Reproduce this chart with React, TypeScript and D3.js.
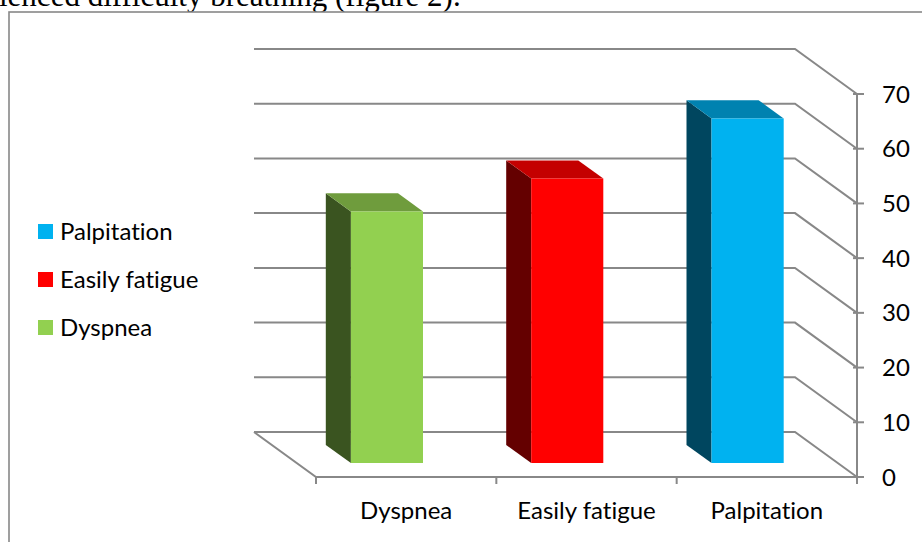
import React from "react";
import * as d3 from "d3";

// Symptom frequencies (per cent) shown as 3D columns
const categories = ["Dyspnea", "Easily fatigue", "Palpitation"];
const values = [46, 52, 63];
const valueTicks = [0, 10, 20, 30, 40, 50, 60, 70];
const legendOrder = ["Palpitation", "Easily fatigue", "Dyspnea"];

const frontColors = ["#92d050", "#ff0000", "#00b2f0"];
const topColors = ["#6f9c3d", "#c40000", "#0082b0"];
const sideColors = ["#3a5420", "#640000", "#00465f"];

const W = 922;
const H = 542;
const FONT = "Lato, 'Open Sans', sans-serif";
const FS = 24;
const GRID = "#888888";
const textStyle = { fontVariantLigatures: "none" } as React.CSSProperties;

// oblique depth vector: full depth of the plot box
const DX = -62;
const DY = -45;
const BAR_D0 = 0.31;
const BAR_D1 = 0.714;

export default function App() {
  const x = d3.scaleBand<string>().domain(categories).range([316, 857]);
  const y = d3.scaleLinear().domain([0, 70]).range([477, 94]);
  const bw = x.bandwidth();
  const colorOf = (c: string) => frontColors[categories.indexOf(c)];

  const P = (px: number, v: number, d: number): [number, number] => [
    px + DX * d,
    y(v) + DY * d,
  ];
  const poly = (pts: [number, number][]) =>
    pts.map((p) => `${p[0].toFixed(1)},${p[1].toFixed(1)}`).join(" ");

  const x0 = x.range()[0];
  const x1 = x.range()[1];

  return (
    <svg
      width={W}
      height={H}
      style={{ position: "absolute", left: 0, top: 0, background: "#fff" }}
    >
      {/* surrounding document text line */}
      <text
        x={-1}
        y={6}
        fontFamily="'Liberation Serif', 'Times New Roman', serif"
        fontSize={31}
        fill="#000"
      >
        ienced difficulty breathing (figure 2).
      </text>

      {/* chart frame */}
      <rect x={9} y={12} width={W} height={H} fill="#fff" stroke="#888" strokeWidth={1.6} />

      {/* back wall gridlines and right wall diagonals */}
      {valueTicks.map((t) => {
        const [bx0, by] = P(x0, t, 1);
        const [bx1] = P(x1, t, 1);
        const [fx, fy] = P(x1, t, 0);
        return (
          <polyline
            key={`g${t}`}
            points={poly([
              [bx0, by],
              [bx1, by],
              [fx, fy],
            ])}
            fill="none"
            stroke={GRID}
            strokeWidth={2}
          />
        );
      })}

      {/* floor left edge and front edge */}
      <polyline
        points={poly([P(x0, 0, 1), P(x0, 0, 0), P(x1, 0, 0)])}
        fill="none"
        stroke={GRID}
        strokeWidth={2}
      />

      {/* category ticks */}
      {[...categories.map((c) => x(c) as number), x1].map((px, i) => (
        <line key={`ct${i}`} x1={px} x2={px} y1={y(0)} y2={y(0) + 7} stroke={GRID} strokeWidth={2} />
      ))}

      {/* value axis */}
      <line x1={x1} x2={x1} y1={y(70)} y2={y(0)} stroke={GRID} strokeWidth={2} />
      {valueTicks.map((t) => (
        <g key={`vt${t}`}>
          <line x1={x1 - 4} x2={x1 + 7} y1={y(t)} y2={y(t)} stroke={GRID} strokeWidth={2} />
          <text x={882} y={y(t) + 8.5} fontFamily={FONT} fontSize={FS} fill="#000" style={textStyle}>
            {t}
          </text>
        </g>
      ))}

      {/* columns */}
      {categories.map((c, i) => {
        const v = values[i];
        const l = (x(c) as number) + bw * 0.3;
        const r = (x(c) as number) + bw * 0.7;
        const side = poly([P(l, 0, BAR_D0), P(l, v, BAR_D0), P(l, v, BAR_D1), P(l, 0, BAR_D1)]);
        const top = poly([P(l, v, BAR_D0), P(r, v, BAR_D0), P(r, v, BAR_D1), P(l, v, BAR_D1)]);
        const front = poly([P(l, 0, BAR_D0), P(r, 0, BAR_D0), P(r, v, BAR_D0), P(l, v, BAR_D0)]);
        return (
          <g key={c}>
            <polygon points={side} fill={sideColors[i]} />
            <polygon points={top} fill={topColors[i]} />
            <polygon points={front} fill={frontColors[i]} />
          </g>
        );
      })}

      {/* category labels */}
      {categories.map((c) => (
        <text
          key={`cl${c}`}
          x={(x(c) as number) + bw / 2}
          y={518.5}
          textAnchor="middle"
          fontFamily={FONT}
          fontSize={FS}
          fill="#000"
          style={textStyle}
        >
          {c}
        </text>
      ))}

      {/* legend */}
      {legendOrder.map((c, i) => (
        <g key={`lg${c}`} transform={`translate(38, ${224 + i * 48})`}>
          <rect x={0} y={0} width={15} height={15} fill={colorOf(c)} />
          <text x={22} y={15.5} fontFamily={FONT} fontSize={FS} fill="#000" style={textStyle}>
            {c}
          </text>
        </g>
      ))}
    </svg>
  );
}
